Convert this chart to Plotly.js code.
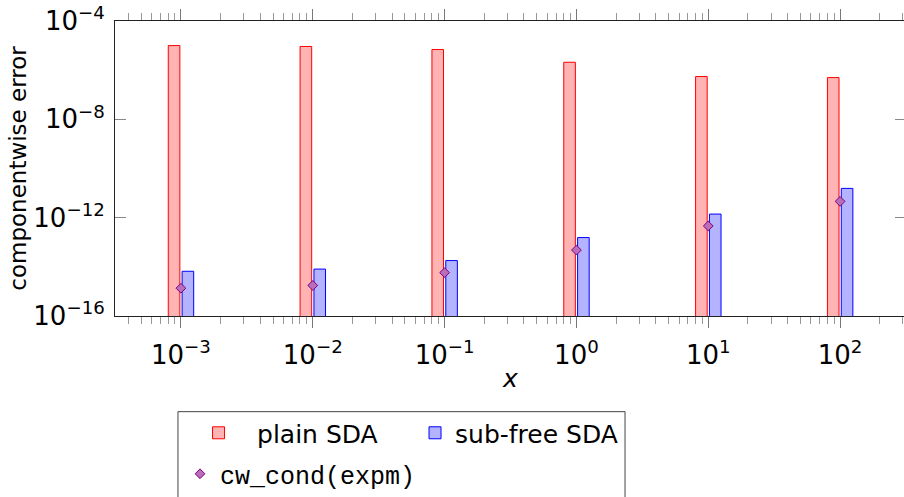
<!DOCTYPE html>
<html>
<head>
<meta charset="utf-8">
<script src="https://cdn.plot.ly/plotly-3.0.1.min.js"></script>
<style>
html, body { margin: 0; padding: 0; overflow: hidden; background: #fff; }
#chart { width: 906px; height: 497px; }
</style>
</head>
<body>
<div id="chart"></div>
<script>
// x values (log-spaced)
const xValues = [1e-3, 1e-2, 1e-1, 1e0, 1e1, 1e2];
const xTickLabels = ['10<sup>−3</sup>', '10<sup>−2</sup>', '10<sup>−1</sup>', '10<sup>0</sup>', '10<sup>1</sup>', '10<sup>2</sup>'];
// componentwise errors
const plainSDA = [1.0e-5, 9.2e-6, 6.9e-6, 2.1e-6, 5.5e-7, 5.0e-7];
const subFreeSDA = [6.6e-15, 8.1e-15, 1.8e-14, 1.55e-13, 1.4e-12, 1.55e-11];
const cwCondExpm = [1.35e-15, 1.75e-15, 5.8e-15, 4.8e-14, 4.6e-13, 4.6e-12];
const yTickVals = [1e-16, 1e-12, 1e-8, 1e-4];
const yTickLabels = ['10<sup>−16</sup>', '10<sup>−12</sup>', '10<sup>−8</sup>', '10<sup>−4</sup>'];

const xPos = xValues.map(v => Math.log10(v));
// minor tick positions at 2..9 times each decade
const minorTicks = [];
for (let e = -4; e <= 2; e++) {
  for (let k = 2; k <= 9; k++) minorTicks.push(e + Math.log10(k));
}

const sansFont = 'DejaVu Sans, sans-serif';

const traces = [
  {
    type: 'bar', name: 'plain SDA', x: xPos, y: plainSDA,
    width: 0.088, offset: -0.096,
    marker: { color: 'rgb(255,179,179)', line: { color: 'rgb(255,0,0)', width: 1 } },
    legend: 'legend', hoverinfo: 'skip'
  },
  {
    type: 'bar', name: 'sub-free SDA', x: xPos, y: subFreeSDA,
    width: 0.088, offset: 0.009,
    marker: { color: 'rgb(179,179,255)', line: { color: 'rgb(0,0,255)', width: 1 } },
    legend: 'legend2', hoverinfo: 'skip'
  },
  {
    type: 'scatter', mode: 'markers', name: 'cw_cond(expm)', x: xPos, y: cwCondExpm,
    marker: { symbol: 'diamond', size: 7.5, color: 'rgb(185,110,185)', line: { color: 'rgb(128,0,128)', width: 1 } },
    legend: 'legend3', hoverinfo: 'skip'
  }
];

const layout = {
  width: 906, height: 497,
  margin: { l: 115, r: 0, t: 21, b: 180 },
  paper_bgcolor: '#fff', plot_bgcolor: '#fff',
  font: { family: sansFont, size: 24, color: '#000' },
  barmode: 'overlay',
  showlegend: true,
  xaxis: {
    type: 'linear', range: [-3.5, 2.5],
    tickmode: 'array', tickvals: xPos, ticktext: xTickLabels,
    ticks: 'outside', ticklen: 11, tickwidth: 1, tickcolor: '#777',
    minor: { tickmode: 'array', tickvals: minorTicks, ticks: 'outside', ticklen: 7, tickwidth: 1, tickcolor: '#999', showgrid: false },
    showline: true, linecolor: '#222', linewidth: 1, mirror: 'ticks',
    showgrid: false, zeroline: false,
    ticklabelstandoff: 5,
    tickfont: { family: sansFont, size: 26 },
    title: { text: '<i>x</i>', font: { family: sansFont, size: 25 }, standoff: 0 }
  },
  yaxis: {
    type: 'log', range: [-16, -4],
    tickmode: 'array', tickvals: yTickVals, ticktext: yTickLabels,
    ticks: 'inside', ticklen: 11, tickwidth: 1, tickcolor: '#888',
    showline: true, linecolor: '#222', linewidth: 1, mirror: 'ticks',
    showgrid: false, zeroline: false,
    ticklabelstandoff: 4,
    tickfont: { family: sansFont, size: 26 },
    title: { text: 'componentwise error', font: { family: sansFont, size: 23 }, standoff: 0 }
  },
  legend: {
    x: 0.0822, xanchor: 'left', y: -0.392, yanchor: 'middle',
    orientation: 'h', bgcolor: 'rgba(0,0,0,0)', borderwidth: 0, itemwidth: 67,
    font: { family: sansFont, size: 25 }
  },
  legend2: {
    x: 0.3793, xanchor: 'left', y: -0.392, yanchor: 'middle',
    orientation: 'h', bgcolor: 'rgba(0,0,0,0)', borderwidth: 0,
    font: { family: sansFont, size: 25 }
  },
  legend3: {
    x: 0.0822, xanchor: 'left', y: -0.534, yanchor: 'middle',
    orientation: 'h', bgcolor: 'rgba(0,0,0,0)', borderwidth: 0,
    font: { family: 'Liberation Mono, DejaVu Sans Mono, monospace', size: 25 }
  },
  shapes: [
    { type: 'rect', xref: 'paper', yref: 'paper', x0: 0.0796, x1: 0.6448, y0: -0.3243, y1: -0.75,
      line: { color: '#444', width: 1 }, fillcolor: 'rgba(0,0,0,0)', layer: 'above' }
  ]
};

Plotly.newPlot('chart', traces, layout, { displayModeBar: false, staticPlot: true });
</script>
</body>
</html>
